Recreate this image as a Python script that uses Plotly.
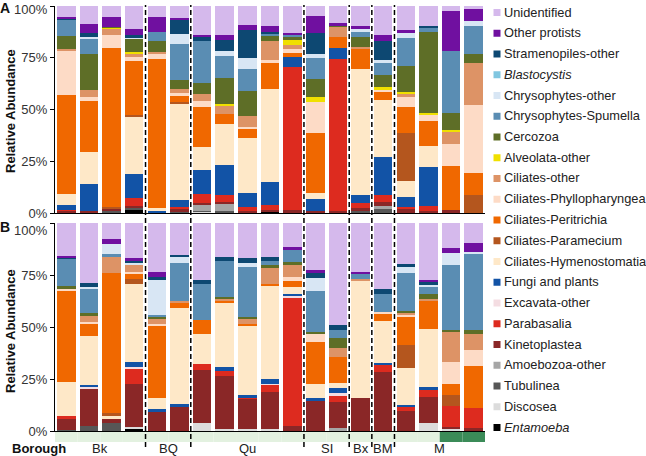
import plotly.graph_objects as go

# ---------------- data ----------------
samples = list(range(19))
boroughs = ["Bk", "BQ", "Qu", "SI", "Bx", "BM", "M"]
borough_sizes = [4, 2, 5, 2, 1, 1, 4]
band_kind = ["light"] * 17 + ["dark"] * 2

taxa = ["<i>Entamoeba</i>", "Discosea", "Tubulinea", "Amoebozoa-other", "Kinetoplastea",
        "Parabasalia", "Excavata-other", "Fungi and plants", "Ciliates-Hymenostomatia",
        "Ciliates-Paramecium", "Ciliates-Peritrichia", "Ciliates-Phyllopharyngea",
        "Ciliates-other", "Alveolata-other", "Cercozoa", "Chrysophytes-Spumella",
        "Chrysophytes-other", "<i>Blastocystis</i>", "Stramenopiles-other",
        "Other protists", "Unidentified"]
colors = ["#000000", "#dcdcdc", "#575757", "#a6a6a6", "#8a2727",
          "#dd2b1f", "#f4dde2", "#1253a6", "#fee8c8",
          "#b4561e", "#f06800", "#fddbc6",
          "#dd9366", "#f0e000", "#5e6e27", "#5a8db3",
          "#d8e6f4", "#80c6e0", "#0d4872",
          "#7010a0", "#d5b9ec"]

# Panel A
A_entamoeba = [0, 0, 0, 1.8, 0, 0, 0, 0, 0, 0.8, 0, 0, 0, 0, 0, 0, 0, 0, 0]
A_discosea = [0, 0, 0, 0, 0, 0, 0.5, 0, 0, 0, 0, 0, 0, 0, 0, 0, 0, 0, 0]
A_tubulinea = [0, 0, 1, 0.5, 0, 0.5, 0.5, 1.1, 0, 0, 0, 0, 0, 1.1, 2, 0, 0, 0, 0]
A_amoebozoa = [0, 0, 0, 0, 0, 0, 2.8, 3.2, 0, 0, 0, 0, 0, 0, 1.4, 0, 0, 0, 0]
A_kinetoplastea = [1, 1, 0.8, 1.1, 0, 1.3, 1.1, 1.1, 1.1, 0.8, 1.5, 1.1, 1, 1.1, 2.1, 1.8, 1.1, 1.4, 0]
A_parabasalia = [0.5, 0, 0, 3.7, 0, 1, 4.2, 3.2, 1.8, 2.4, 69.2, 0, 73.3, 2.7, 3.2, 1.3, 2.3, 0, 0]
A_excavata = [0] * 19
A_fungi = [2.5, 12.8, 0, 11.7, 1.2, 3.5, 11.6, 14.5, 6.8, 10.8, 4.8, 5.5, 5.3, 3.7, 18.2, 4.8, 19, 0, 0]
A_hymenostomatia = [5.3, 15.5, 0, 28, 1, 46.7, 11.3, 20.1, 26.3, 45.1, 0, 3.2, 0, 61.2, 27.7, 7.6, 10.1, 0, 0]
A_paramecium = [0, 0, 1.2, 0.7, 0, 0.8, 0, 0, 0, 0, 0, 0, 0, 0, 0, 23.3, 0, 0, 8.7]
A_peritrichia = [47.8, 24.9, 76.5, 25.7, 72, 2.8, 19, 4.5, 4.5, 12.6, 1.9, 28.7, 5.6, 9.2, 4, 12.6, 12.1, 21.3, 10.5]
A_phyllopharyngea = [21.3, 1.9, 6.4, 2.1, 2.6, 1.3, 3.2, 0, 1.1, 1.6, 1.6, 15.3, 0, 0, 0.8, 4.5, 2.8, 10.6, 33]
A_ciliates_other = [0.8, 3.2, 3.2, 1.9, 1.1, 1.9, 3.1, 4.3, 5.2, 8.8, 2.4, 0, 4.8, 1.3, 0, 1.9, 0, 5.9, 20.1]
A_alveolata = [0, 0, 0.5, 0.5, 0, 0, 0, 0.8, 0, 0, 2.1, 2.1, 0, 0, 1.3, 0.8, 0.8, 0.8, 0]
A_cercozoa = [6.1, 17.7, 0.3, 6.8, 5.3, 4.5, 5.6, 12.6, 12.2, 2.8, 1.6, 8.8, 0.8, 4.8, 5.9, 12.6, 39.4, 8.4, 4.5]
A_spumella = [8, 7.5, 0, 0, 4.3, 17.2, 20.3, 10.3, 10.8, 1, 1.1, 10, 0, 2.4, 5.7, 13.2, 1.6, 30, 13.5]
A_chryso_other = [0, 0.5, 0, 0.5, 0, 5, 0, 2.4, 5.3, 0, 0, 2.1, 0, 1.6, 1.6, 2.4, 0, 0, 2.6]
A_blastocystis = [0] * 19
A_stramenopiles = [0.5, 2.1, 0, 0.8, 0, 6.8, 2.3, 5.3, 13.5, 0.6, 0, 10.3, 0, 0, 9.3, 0, 1.1, 0, 0]
A_other_protists = [1, 4.3, 4.8, 3.2, 7, 0.8, 0.5, 2.8, 2.1, 3.2, 0.8, 8.1, 0.8, 1.1, 2.8, 1.6, 0, 19.3, 5.5]
A_unidentified = [5.2, 8.6, 5.3, 11.0, 5.5, 5.9, 14, 13.8, 9.3, 9.5, 13.0, 4.8, 8.4, 9.8, 14, 11.6, 9.7, 2.3, 1.6]

# Panel B
B_entamoeba = [0, 0, 0, 1.3, 0, 0, 0, 0, 0, 0, 0, 0, 0, 0, 0, 0, 0, 0, 0]
B_discosea = [0, 0, 0, 0.5, 0, 0, 3.7, 1, 0.8, 1, 0, 0, 0, 0, 0, 0, 3.7, 0.8, 0]
B_tubulinea = [0.5, 2.6, 4, 0, 0, 0, 0, 0, 0, 0, 0, 0, 0, 0, 0, 0, 0, 0, 0]
B_amoebozoa = [0, 0, 0, 0, 0, 0, 0, 0, 0, 0, 0, 0, 1.6, 0, 0, 0, 0, 0, 0]
B_kinetoplastea = [5.5, 17.6, 2, 20.9, 9.6, 11.7, 25.6, 25.6, 14.4, 17.6, 2.5, 14.9, 12.2, 15.8, 28.4, 9.6, 12.8, 1.2, 1.3]
B_parabasalia = [1, 0, 0, 7.2, 0, 0, 2.7, 2.4, 1.1, 3.6, 61.5, 0, 3.5, 0, 3.7, 2.1, 3.2, 10.1, 9.9]
B_excavata = [0, 0.8, 0, 0.8, 0, 0, 0, 0, 0, 0.5, 0.8, 0, 0.8, 0, 0, 0, 0, 0, 0]
B_fungi = [0, 1.2, 0, 2.4, 0.8, 1.2, 0, 1.6, 0.8, 2.1, 1.3, 0.8, 2.7, 0, 0.8, 0.8, 1.6, 0, 0]
B_hymenostomatia = [16.8, 23.4, 1, 37.7, 5.4, 46.4, 14.4, 31, 33.3, 44.9, 3.2, 6.7, 2.1, 56.1, 19.9, 17.6, 27.7, 0, 0]
B_paramecium = [0, 0, 1.6, 2.4, 0, 0, 0, 0, 0, 0, 0, 0, 0, 0, 0, 11.2, 0, 5.1, 0]
B_peritrichia = [43.6, 6.3, 67.5, 2.4, 34.6, 2.1, 6.9, 1.1, 1.1, 1.2, 2.7, 20.2, 12.8, 0, 3.7, 13.6, 13.5, 5.6, 20]
B_phyllopharyngea = [1.3, 0.5, 0, 0.8, 1.1, 0, 0, 0, 0, 0, 2.1, 4.3, 0, 0, 0.8, 1.1, 0, 10.4, 7.7]
B_ciliates_other = [0, 2.9, 8, 3.2, 2.4, 1.1, 0, 1.1, 2.4, 7.5, 5.6, 0, 4, 1.3, 0, 0.8, 1, 14.4, 7.5]
B_alveolata = [0] * 19
B_cercozoa = [0.8, 1.2, 0, 0, 0.8, 0, 0, 0.8, 0.8, 1.3, 1.6, 0.8, 4.8, 0, 0, 0.8, 2.3, 0.8, 2.1]
B_spumella = [13.2, 12, 0.8, 0, 1.2, 18.4, 17.6, 17, 24, 1.9, 5.6, 19.6, 4.3, 2.5, 8.8, 18.6, 3.4, 31.6, 36.4]
B_chryso_other = [0, 0.8, 5.1, 1.3, 16.5, 2.9, 0, 0, 1.9, 0, 0, 6.4, 0, 0, 0, 2.7, 1.1, 5.8, 1]
B_blastocystis = [0] * 19
B_stramenopiles = [0.8, 1.9, 0, 0.6, 1.6, 0.7, 1.6, 1.9, 2.4, 2.1, 0, 2.1, 2.1, 0, 2.4, 1.2, 1.6, 0, 0]
B_other_protists = [0.8, 0, 2.5, 1.6, 2.4, 0, 0, 0, 0, 0, 1.6, 1.6, 0, 0.7, 0, 0, 0.8, 2.2, 4.3]
B_unidentified = [15.7, 28.8, 7.5, 16.9, 23.6, 15.5, 27.5, 16.5, 17.0, 16.3, 11.5, 22.6, 49.1, 23.6, 31.5, 19.9, 27.3, 12.0, 9.8]

A_values = [A_entamoeba, A_discosea, A_tubulinea, A_amoebozoa, A_kinetoplastea, A_parabasalia,
            A_excavata, A_fungi, A_hymenostomatia, A_paramecium, A_peritrichia, A_phyllopharyngea,
            A_ciliates_other, A_alveolata, A_cercozoa, A_spumella, A_chryso_other, A_blastocystis,
            A_stramenopiles, A_other_protists, A_unidentified]
B_values = [B_entamoeba, B_discosea, B_tubulinea, B_amoebozoa, B_kinetoplastea, B_parabasalia,
            B_excavata, B_fungi, B_hymenostomatia, B_paramecium, B_peritrichia, B_phyllopharyngea,
            B_ciliates_other, B_alveolata, B_cercozoa, B_spumella, B_chryso_other, B_blastocystis,
            B_stramenopiles, B_other_protists, B_unidentified]

tick_vals = [0, 25, 50, 75, 100]
tick_text = ["0%", "25%", "50%", "75%", "100%"]

# ---------------- geometry helpers (pixel -> paper) ----------------
W, H = 646, 456
ML, MR, MT, MB = 55, 161, 6, 25
PW, PH = W - ML - MR, H - MT - MB
def px(x):
    return (x - ML) / PW
def py(y):
    return (H - MB - y) / PH

FONT = "Liberation Sans, Arial, sans-serif"
fig = go.Figure()

for vals, name, col in zip(A_values, taxa, colors):
    fig.add_trace(go.Bar(x=samples, y=vals, name=name, marker=dict(color=col, line=dict(width=0)),
                         xaxis="x", yaxis="y", showlegend=False))
for vals, name, col in zip(B_values, taxa, colors):
    fig.add_trace(go.Bar(x=samples, y=vals, name=name, marker=dict(color=col, line=dict(width=0)),
                         xaxis="x2", yaxis="y2", showlegend=False))

# the 100% label is placed separately (shifted down as in the reference)
yax = dict(range=[0, 100], tickvals=tick_vals, ticktext=tick_text[:-1] + [""],
           showline=True, linecolor="black", linewidth=1, ticks="outside", ticklen=4, tickcolor="black",
           showgrid=False, zeroline=False, tickfont=dict(family=FONT, size=13, color="#333333"))
xax = dict(range=[-0.5, 18.5], showline=True, linecolor="black", linewidth=1, showticklabels=False,
           ticks="", showgrid=False, zeroline=False)

fig.update_layout(
    width=W, height=H, margin=dict(l=ML, r=MR, t=MT, b=MB),
    paper_bgcolor="white", plot_bgcolor="white",
    barmode="stack", bargap=0.18,
    font=dict(family=FONT, size=13, color="#222222"),
    xaxis=dict(xax, anchor="y", domain=[0, 1]),
    xaxis2=dict(xax, anchor="y2", domain=[0, 1]),
    yaxis=dict(yax, anchor="x", domain=[py(213), 1.0]),
    yaxis2=dict(yax, anchor="x2", domain=[0, py(223)]),
    showlegend=False,
)

shapes = []
annotations = []

for yy in [10, 230]:
    annotations.append(dict(x=px(50), y=py(yy), xref="paper", yref="paper", text=tick_text[-1],
                            showarrow=False, xanchor="right", yanchor="middle",
                            font=dict(family=FONT, size=13, color="#333333")))

# borough band
for i, kind in enumerate(band_kind):
    shapes.append(dict(type="rect", xref="x", yref="paper", x0=i - 0.5, x1=i + 0.5,
                       y0=py(442), y1=py(432), line=dict(width=0),
                       fillcolor="#e3f1e0" if kind == "light" else "#3b8b58", layer="below"))

# group separators and labels
start = 0
for k, (b, n) in enumerate(zip(boroughs, borough_sizes)):
    center = start + (n - 1) / 2
    annotations.append(dict(x=center, y=py(449), xref="x", yref="paper", text=b, showarrow=False,
                            font=dict(family=FONT, size=13, color="#222222"), xanchor="center", yanchor="middle"))
    start += n
    if k < len(boroughs) - 1:
        shapes.append(dict(type="line", xref="x", yref="paper", x0=start - 0.5, x1=start - 0.5,
                           y0=py(447), y1=py(5), line=dict(color="black", width=1.5, dash="5px,3px")))

annotations.append(dict(x=px(10), y=py(449), xref="paper", yref="paper", text="<b>Borough</b>",
                        showarrow=False, xanchor="left", yanchor="middle",
                        font=dict(family=FONT, size=13, color="#111111")))

# panel letters and axis titles
for letter, ly, ty in [("A", 8.5, 111), ("B", 227, 331)]:
    annotations.append(dict(x=px(4.5), y=py(ly), xref="paper", yref="paper", text="<b>%s</b>" % letter,
                            showarrow=False, xanchor="center", yanchor="middle",
                            font=dict(family=FONT, size=14, color="#111111")))
    annotations.append(dict(x=px(10), y=py(ty), xref="paper", yref="paper", text="<b>Relative Abundance</b>",
                            showarrow=False, textangle=-90, xanchor="center", yanchor="middle",
                            font=dict(family=FONT, size=13, color="#111111")))

# legend (top to bottom: reversed stack order)
for j, (name, col) in enumerate(zip(reversed(taxa), reversed(colors))):
    cy = 12.5 + 20.75 * j
    shapes.append(dict(type="rect", xref="paper", yref="paper", x0=px(493.5), x1=px(500.5),
                       y0=py(cy + 3.5), y1=py(cy - 3.5), line=dict(width=0), fillcolor=col))
    annotations.append(dict(x=px(502), y=py(cy - 0.5), xref="paper", yref="paper", text=name,
                            showarrow=False, xanchor="left", yanchor="middle",
                            font=dict(family=FONT, size=12.8, color="#222222")))

fig.update_layout(shapes=shapes, annotations=annotations)
fig.write_html("out.html", config={"displayModeBar": False},
               post_script="document.body.style.margin='0px';")
